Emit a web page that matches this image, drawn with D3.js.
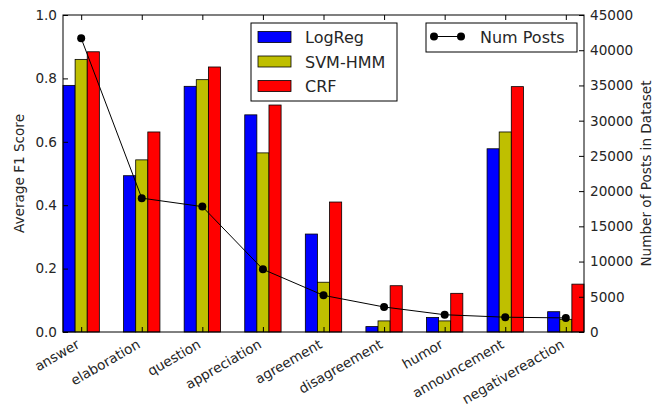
<!DOCTYPE html>
<html><head><meta charset="utf-8">
<script src="https://cdn.jsdelivr.net/npm/d3@7"></script>
<style>body{margin:0;background:#fff}svg text{font-family:"DejaVu Sans",sans-serif;fill:#262626}</style>
</head><body><svg id="c" width="667" height="409"></svg>
<script>
const categories = ["answer","elaboration","question","appreciation","agreement","disagreement","humor","announcement","negativereaction"];
const logReg = [0.778,0.493,0.775,0.685,0.309,0.017,0.046,0.578,0.064];
const svmHmm = [0.860,0.543,0.796,0.565,0.157,0.035,0.035,0.631,0.040];
const crf    = [0.884,0.631,0.836,0.716,0.410,0.146,0.122,0.774,0.151];
const numPosts = [41700,19000,17800,8900,5200,3550,2450,2100,2000];
const leftTicks = [0,0.2,0.4,0.6,0.8,1.0];
const rightTicks = [0,5000,10000,15000,20000,25000,30000,35000,40000,45000];
const seriesNames = ["LogReg","SVM-HMM","CRF"];
const seriesColors = ["#0000ff","#bfbf00","#ff0000"];

const svg = d3.select("#c");
const L=63,R=584,T=15,B=332;
const x = d3.scaleLinear().domain([-0.3,8.3]).range([L,R]);
const yL = d3.scaleLinear().domain([0,1]).range([B,T]);
const yR = d3.scaleLinear().domain([0,45000]).range([B,T]);
const bw = 0.2;
const series = [logReg, svmHmm, crf];

// bars
series.forEach((s,k)=>{
  svg.append("g").selectAll("rect").data(s).join("rect")
    .attr("x",(d,i)=>x(i-0.3+k*bw))
    .attr("width",x(bw)-x(0))
    .attr("y",d=>yL(d))
    .attr("height",d=>B-yL(d))
    .attr("fill",seriesColors[k])
    .attr("stroke","#000").attr("stroke-width",0.8);
});

// line
const line = d3.line().x((d,i)=>x(i)).y(d=>yR(d));
svg.append("path").datum(numPosts).attr("d",line).attr("fill","none").attr("stroke","#000").attr("stroke-width",1);
svg.append("g").selectAll("circle").data(numPosts).join("circle")
  .attr("cx",(d,i)=>x(i)).attr("cy",d=>yR(d)).attr("r",4).attr("fill","#000");

// frame
svg.append("rect").attr("x",L).attr("y",T).attr("width",R-L).attr("height",B-T)
  .attr("fill","none").attr("stroke","#000").attr("stroke-width",1);

// left axis
const gl = svg.append("g").attr("transform",`translate(${L},0)`);
gl.call(d3.axisLeft(yL).tickValues(leftTicks).tickFormat(d3.format(".1f")).tickSizeInner(-5).tickSizeOuter(0).tickPadding(6));
// right axis
const gr = svg.append("g").attr("transform",`translate(${R},0)`);
gr.call(d3.axisRight(yR).tickValues(rightTicks).tickFormat(d3.format("d")).tickSizeInner(-5).tickSizeOuter(0).tickPadding(6));
// bottom axis
const gb = svg.append("g").attr("transform",`translate(0,${B})`);
gb.call(d3.axisBottom(x).tickValues(d3.range(categories.length)).tickFormat(i=>categories[i]).tickSizeInner(-5).tickSizeOuter(0));
// top ticks
const gt = svg.append("g").attr("transform",`translate(0,${T})`);
gt.call(d3.axisTop(x).tickValues(d3.range(categories.length)).tickFormat("").tickSizeInner(-5).tickSizeOuter(0));
[gl,gr,gb,gt].forEach(g=>{g.select(".domain").remove(); g.selectAll("line").attr("stroke","#000");});
gl.selectAll("text").attr("font-size",13.6).attr("fill","#262626");
gr.selectAll("text").attr("font-size",13.6).attr("fill","#262626");
gb.selectAll("text").attr("font-size",13.6).attr("fill","#262626")
  .attr("text-anchor","end").attr("dy",0).attr("y",0).attr("x",0)
  .attr("transform","translate(-1,15) rotate(-30)");

// axis labels
svg.append("text").attr("transform",`translate(24,${(T+B)/2}) rotate(-90)`).attr("text-anchor","middle")
  .attr("font-size",13.6).text("Average F1 Score");
svg.append("text").attr("transform",`translate(651,${(T+B)/2}) rotate(-90)`).attr("text-anchor","middle")
  .attr("font-size",13.6).text("Number of Posts in Dataset");

// legend 1
const lg1 = svg.append("g");
lg1.append("rect").attr("x",251).attr("y",23).attr("width",146).attr("height",78).attr("fill","#fff").attr("stroke","#000").attr("stroke-width",1);
seriesNames.forEach((n,k)=>{
  const cy = 37+k*24.5;
  lg1.append("rect").attr("x",258).attr("y",cy-5.5).attr("width",33).attr("height",11).attr("fill",seriesColors[k]).attr("stroke","#000").attr("stroke-width",0.8);
  lg1.append("text").attr("x",305).attr("y",cy+6).attr("font-size",16).text(n);
});
// legend 2
const lg2 = svg.append("g");
lg2.append("rect").attr("x",426).attr("y",23).attr("width",151).attr("height",29).attr("fill","#fff").attr("stroke","#000").attr("stroke-width",1);
lg2.append("line").attr("x1",434).attr("x2",461).attr("y1",36.5).attr("y2",36.5).attr("stroke","#000");
[434,461].forEach(cx=>lg2.append("circle").attr("cx",cx).attr("cy",36.5).attr("r",4).attr("fill","#000"));
lg2.append("text").attr("x",480).attr("y",42.5).attr("font-size",16).text("Num Posts");
</script></body></html>
